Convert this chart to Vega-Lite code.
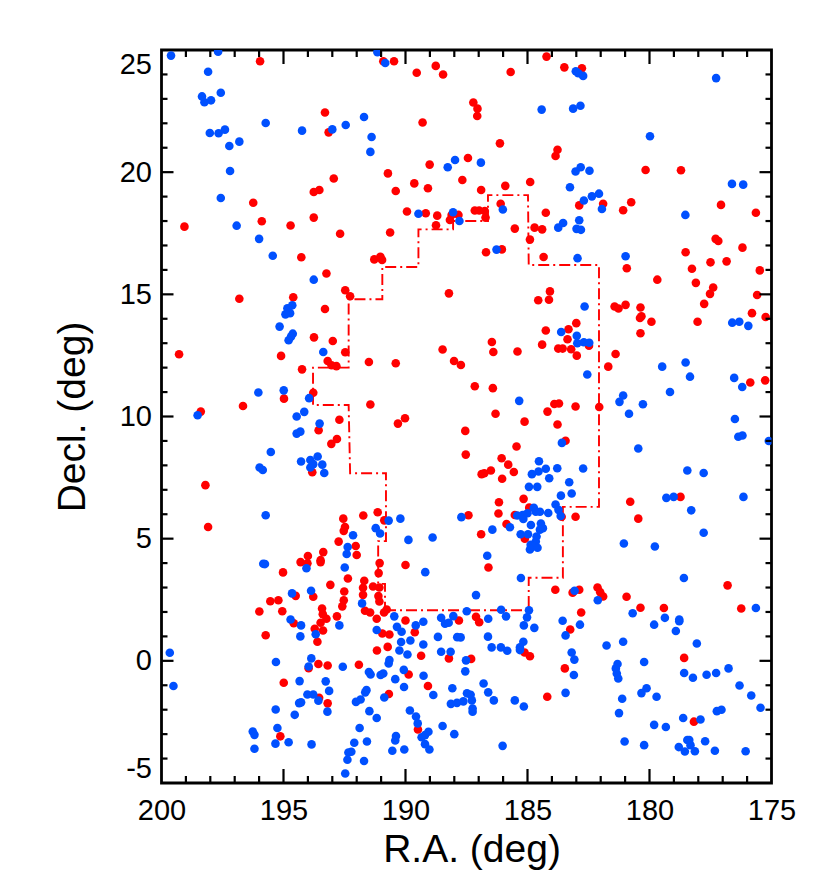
{"$schema":"https://vega.github.io/schema/vega-lite/v6.json","width":610,"height":733,"autosize":{"type":"none"},"padding":{"left":161.5,"top":50,"right":58.5,"bottom":102},"view":{"stroke":"black","strokeWidth":2.8},
"datasets":{"red":[
{"ra":195.96,"dec":24.54},{"ra":190.91,"dec":24.54},{"ra":190.47,"dec":24.54},{"ra":188.76,"dec":24.35},{"ra":189.54,"dec":24.07},{"ra":188.46,"dec":24.0},{"ra":193.3,"dec":22.44},{"ra":193.15,"dec":21.63},{"ra":189.3,"dec":22.03},{"ra":189.01,"dec":20.31},{"ra":187.44,"dec":20.58},{"ra":190.72,"dec":19.95},{"ra":189.64,"dec":19.54},{"ra":189.08,"dec":19.34},{"ra":190.4,"dec":19.23},{"ra":187.67,"dec":19.68},{"ra":192.94,"dec":19.74},{"ra":193.53,"dec":19.27},{"ra":193.76,"dec":19.19},{"ra":196.24,"dec":18.75},{"ra":195.89,"dec":17.99},{"ra":199.06,"dec":17.77},{"ra":194.71,"dec":17.82},{"ra":193.76,"dec":18.14},{"ra":192.68,"dec":17.48},{"ra":190.63,"dec":17.53},{"ra":189.94,"dec":18.39},{"ra":189.17,"dec":18.32},{"ra":188.7,"dec":18.22},{"ra":188.75,"dec":17.83},{"ra":188.18,"dec":18.04},{"ra":188.11,"dec":18.25},{"ra":187.83,"dec":18.25},{"ra":194.27,"dec":16.52},{"ra":191.28,"dec":16.43},{"ra":191.03,"dec":16.54},{"ra":190.96,"dec":16.41},{"ra":193.24,"dec":15.85},{"ra":192.47,"dec":15.17},{"ra":192.27,"dec":14.92},{"ra":196.81,"dec":14.82},{"ra":194.6,"dec":14.88},{"ra":188.22,"dec":15.04},
{"ra":184.22,"dec":24.73},{"ra":183.49,"dec":24.29},{"ra":182.77,"dec":24.25},{"ra":185.69,"dec":24.1},{"ra":187.22,"dec":22.85},{"ra":187.05,"dec":22.6},{"ra":187.06,"dec":22.3},{"ra":186.13,"dec":21.18},{"ra":183.77,"dec":20.92},{"ra":183.85,"dec":20.66},{"ra":186.9,"dec":19.27},{"ra":185.91,"dec":19.44},{"ra":184.89,"dec":19.6},{"ra":186.1,"dec":18.71},{"ra":187.16,"dec":18.43},{"ra":186.98,"dec":18.43},{"ra":186.75,"dec":18.41},{"ra":186.72,"dec":18.14},{"ra":184.25,"dec":18.34},{"ra":185.52,"dec":17.69},{"ra":184.71,"dec":17.73},{"ra":184.4,"dec":17.66},{"ra":184.9,"dec":17.24},{"ra":186.7,"dec":16.72},{"ra":186.05,"dec":16.84},{"ra":184.34,"dec":16.53},{"ra":184.08,"dec":15.12},{"ra":182.88,"dec":18.64},{"ra":181.9,"dec":18.71},{"ra":181.08,"dec":18.44},{"ra":180.75,"dec":18.77},{"ra":180.16,"dec":20.09},{"ra":178.71,"dec":20.08},{"ra":180.93,"dec":16.07},{"ra":179.68,"dec":15.6},{"ra":178.52,"dec":16.72},{"ra":178.26,"dec":16.05},{"ra":177.5,"dec":16.31},{"ra":176.84,"dec":16.35},{"ra":178.1,"dec":15.47},{"ra":177.39,"dec":15.28},{"ra":177.52,"dec":15.02},{"ra":177.29,"dec":17.27},{"ra":177.18,"dec":17.18},{"ra":176.19,"dec":16.91},{"ra":177.07,"dec":18.66},{"ra":175.64,"dec":18.34},{"ra":175.48,"dec":15.98},{"ra":175.59,"dec":14.97},
{"ra":193.3,"dec":14.4},{"ra":193.75,"dec":13.24},{"ra":192.98,"dec":13.09},{"ra":192.47,"dec":12.63},{"ra":199.28,"dec":12.55},{"ra":195.1,"dec":12.48},{"ra":188.48,"dec":12.74},{"ra":188.01,"dec":12.27},{"ra":187.73,"dec":12.11},{"ra":193.19,"dec":12.27},{"ra":193.03,"dec":12.1},{"ra":192.83,"dec":12.06},{"ra":191.5,"dec":12.23},{"ra":190.4,"dec":12.18},{"ra":194.24,"dec":11.93},{"ra":193.78,"dec":10.97},{"ra":194.98,"dec":10.73},{"ra":196.66,"dec":10.43},{"ra":198.39,"dec":10.2},{"ra":191.44,"dec":10.49},{"ra":192.71,"dec":9.87},{"ra":190.02,"dec":9.93},{"ra":190.31,"dec":9.71},{"ra":193.56,"dec":9.44},{"ra":187.55,"dec":9.41},{"ra":192.81,"dec":9.08},{"ra":193.04,"dec":8.88},{"ra":187.53,"dec":8.44},{"ra":193.82,"dec":7.72},{"ra":198.2,"dec":7.19},{"ra":191.73,"dec":5.95},{"ra":191.14,"dec":6.08},{"ra":192.55,"dec":5.82},{"ra":190.87,"dec":5.75},{"ra":187.42,"dec":5.96},{"ra":198.09,"dec":5.48},{"ra":192.48,"dec":5.48},{"ra":192.53,"dec":5.32},{"ra":192.74,"dec":4.88},{"ra":192.04,"dec":4.7},
{"ra":184.56,"dec":14.76},{"ra":184.12,"dec":14.78},{"ra":181.43,"dec":14.5},{"ra":181.27,"dec":14.42},{"ra":180.98,"dec":14.57},{"ra":180.37,"dec":14.46},{"ra":180.33,"dec":14.1},{"ra":180.39,"dec":14.03},{"ra":179.92,"dec":13.88},{"ra":180.37,"dec":13.41},{"ra":178.03,"dec":13.88},{"ra":177.76,"dec":14.61},{"ra":175.8,"dec":14.23},{"ra":175.24,"dec":14.07},{"ra":183.0,"dec":13.82},{"ra":183.32,"dec":13.57},{"ra":184.25,"dec":13.52},{"ra":183.36,"dec":13.16},{"ra":186.46,"dec":13.05},{"ra":184.4,"dec":12.94},{"ra":186.4,"dec":12.64},{"ra":185.41,"dec":12.66},{"ra":183.74,"dec":12.78},{"ra":183.56,"dec":12.78},{"ra":183.21,"dec":12.75},{"ra":182.98,"dec":12.49},{"ra":182.48,"dec":12.9},{"ra":181.39,"dec":12.56},{"ra":181.69,"dec":12.04},{"ra":187.16,"dec":11.24},{"ra":186.42,"dec":11.16},{"ra":175.87,"dec":11.39},{"ra":175.26,"dec":11.48},{"ra":186.31,"dec":10.11},{"ra":185.12,"dec":9.79},{"ra":183.9,"dec":10.51},{"ra":183.71,"dec":10.53},{"ra":183.03,"dec":10.41},{"ra":182.06,"dec":10.39},{"ra":184.18,"dec":10.2},{"ra":183.77,"dec":9.67},{"ra":183.44,"dec":9.01},{"ra":185.45,"dec":8.77},{"ra":186.06,"dec":8.29},{"ra":185.79,"dec":8.03},{"ra":186.5,"dec":7.79},{"ra":186.77,"dec":7.68},{"ra":186.88,"dec":7.64},{"ra":185.56,"dec":7.73},{"ra":186.04,"dec":7.45},{"ra":185.16,"dec":6.63},{"ra":186.17,"dec":6.49},{"ra":180.79,"dec":6.51},{"ra":178.73,"dec":6.71},{"ra":184.93,"dec":6.27},{"ra":186.19,"dec":6.03},{"ra":185.52,"dec":5.97},{"ra":183.03,"dec":5.9},{"ra":180.46,"dec":5.82},{"ra":183.6,"dec":5.9},{"ra":185.86,"dec":5.6},{"ra":186.9,"dec":5.18},{"ra":185.11,"dec":5.0},
{"ra":192.0,"dec":4.33},{"ra":193.37,"dec":4.45},{"ra":194.0,"dec":4.29},{"ra":194.3,"dec":4.04},{"ra":194.02,"dec":3.99},{"ra":193.48,"dec":4.12},{"ra":193.48,"dec":4.04},{"ra":191.06,"dec":4.0},{"ra":190.0,"dec":3.92},{"ra":195.02,"dec":3.62},{"ra":191.1,"dec":3.59},{"ra":192.36,"dec":3.37},{"ra":193.08,"dec":3.11},{"ra":191.69,"dec":3.28},{"ra":191.74,"dec":2.99},{"ra":191.33,"dec":3.04},{"ra":191.07,"dec":3.0},{"ra":191.74,"dec":2.7},{"ra":192.51,"dec":2.84},{"ra":194.5,"dec":2.66},{"ra":193.78,"dec":2.62},{"ra":192.53,"dec":2.48},{"ra":192.59,"dec":2.23},{"ra":191.11,"dec":2.65},{"ra":191.07,"dec":2.43},{"ra":195.54,"dec":2.44},{"ra":195.21,"dec":2.48},{"ra":195.99,"dec":2.02},{"ra":195.05,"dec":2.03},{"ra":193.42,"dec":2.14},{"ra":193.39,"dec":1.91},{"ra":193.24,"dec":1.72},{"ra":192.81,"dec":1.82},{"ra":191.66,"dec":2.05},{"ra":191.45,"dec":1.98},{"ra":190.77,"dec":2.1},{"ra":190.88,"dec":1.98},{"ra":191.18,"dec":1.72},{"ra":190.0,"dec":1.65},{"ra":193.48,"dec":1.56},{"ra":194.58,"dec":1.54},{"ra":189.62,"dec":1.17},{"ra":193.72,"dec":1.31},{"ra":193.38,"dec":1.24},{"ra":195.73,"dec":1.05},{"ra":190.95,"dec":1.12},{"ra":190.66,"dec":1.08},{"ra":193.61,"dec":0.78},{"ra":190.73,"dec":0.57},{"ra":191.17,"dec":0.42},{"ra":189.36,"dec":0.21},{"ra":188.22,"dec":0.1},{"ra":193.57,"dec":-0.13},{"ra":193.97,"dec":-0.3},{"ra":193.19,"dec":-0.19},{"ra":191.91,"dec":-0.16},{"ra":189.87,"dec":-0.56},{"ra":194.99,"dec":-0.9},{"ra":189.08,"dec":-1.03},{"ra":190.68,"dec":-1.36},{"ra":193.54,"dec":-1.51},{"ra":193.19,"dec":-1.74},{"ra":189.49,"dec":-2.81},{"ra":195.13,"dec":-3.09},
{"ra":186.6,"dec":3.82},{"ra":183.86,"dec":2.91},{"ra":183.15,"dec":2.79},{"ra":182.88,"dec":2.91},{"ra":182.13,"dec":3.0},{"ra":182.02,"dec":2.81},{"ra":181.9,"dec":2.63},{"ra":180.94,"dec":2.62},{"ra":180.37,"dec":2.17},{"ra":179.41,"dec":2.16},{"ra":176.8,"dec":3.09},{"ra":176.24,"dec":2.14},{"ra":182.8,"dec":1.98},{"ra":187.11,"dec":1.8},{"ra":186.98,"dec":1.58},{"ra":187.81,"dec":1.65},{"ra":183.25,"dec":1.28},{"ra":185.12,"dec":0.34},{"ra":184.9,"dec":0.19},{"ra":187.31,"dec":0.08},{"ra":178.58,"dec":0.12},{"ra":183.47,"dec":-0.31},{"ra":184.19,"dec":-1.47},{"ra":178.18,"dec":-2.49}],
"blue":[
{"ra":199.61,"dec":24.77},{"ra":197.68,"dec":24.93},{"ra":198.09,"dec":24.11},{"ra":197.57,"dec":23.25},{"ra":198.34,"dec":23.1},{"ra":198.24,"dec":22.86},{"ra":197.97,"dec":22.94},{"ra":195.73,"dec":22.01},{"ra":198.02,"dec":21.6},{"ra":197.66,"dec":21.59},{"ra":197.4,"dec":21.74},{"ra":196.81,"dec":21.25},{"ra":197.22,"dec":21.07},{"ra":197.19,"dec":20.05},{"ra":197.57,"dec":18.94},{"ra":196.92,"dec":17.81},{"ra":196.0,"dec":17.27},{"ra":195.44,"dec":16.58},{"ra":194.24,"dec":21.7},{"ra":193.0,"dec":21.75},{"ra":192.45,"dec":21.93},{"ra":191.7,"dec":22.26},{"ra":191.39,"dec":21.44},{"ra":191.44,"dec":20.83},{"ra":191.15,"dec":24.91},{"ra":190.83,"dec":24.47},{"ra":188.27,"dec":20.2},{"ra":187.97,"dec":20.5},{"ra":189.47,"dec":18.3},{"ra":188.05,"dec":18.36},{"ra":187.79,"dec":18.0},{"ra":193.76,"dec":15.6},
{"ra":184.42,"dec":22.56},{"ra":183.13,"dec":22.6},{"ra":182.83,"dec":22.72},{"ra":183.02,"dec":24.13},{"ra":182.92,"dec":24.05},{"ra":182.72,"dec":23.94},{"ra":177.27,"dec":23.85},{"ra":179.98,"dec":21.47},{"ra":186.91,"dec":20.39},{"ra":183.03,"dec":20.03},{"ra":182.82,"dec":20.2},{"ra":182.46,"dec":20.06},{"ra":183.26,"dec":19.38},{"ra":176.62,"dec":19.52},{"ra":176.16,"dec":19.49},{"ra":182.69,"dec":18.84},{"ra":182.36,"dec":19.01},{"ra":182.07,"dec":19.12},{"ra":181.95,"dec":18.49},{"ra":186.01,"dec":18.47},{"ra":183.54,"dec":17.92},{"ra":183.74,"dec":17.73},{"ra":182.88,"dec":18.03},{"ra":182.99,"dec":17.68},{"ra":182.81,"dec":17.64},{"ra":178.53,"dec":18.25},{"ra":186.27,"dec":16.83},{"ra":180.98,"dec":16.56},{"ra":182.95,"dec":16.48},
{"ra":194.64,"dec":14.55},{"ra":194.84,"dec":14.43},{"ra":194.73,"dec":14.23},{"ra":194.92,"dec":14.18},{"ra":195.16,"dec":13.68},{"ra":194.62,"dec":13.39},{"ra":194.69,"dec":13.27},{"ra":194.79,"dec":13.12},{"ra":193.37,"dec":12.64},{"ra":194.99,"dec":11.07},{"ra":196.03,"dec":10.98},{"ra":193.95,"dec":10.75},{"ra":194.15,"dec":10.19},{"ra":194.46,"dec":10.0},{"ra":198.52,"dec":10.05},{"ra":193.52,"dec":9.71},{"ra":194.31,"dec":9.38},{"ra":194.46,"dec":9.3},{"ra":195.52,"dec":8.55},{"ra":194.28,"dec":8.16},{"ra":193.9,"dec":8.22},{"ra":193.6,"dec":8.36},{"ra":193.78,"dec":8.05},{"ra":193.41,"dec":8.03},{"ra":193.9,"dec":7.91},{"ra":193.33,"dec":7.69},{"ra":195.98,"dec":7.91},{"ra":195.85,"dec":7.81},{"ra":195.73,"dec":5.96},{"ra":190.69,"dec":5.74},{"ra":190.21,"dec":5.82},{"ra":191.22,"dec":5.43},{"ra":191.04,"dec":5.21},{"ra":187.71,"dec":5.88},{"ra":192.15,"dec":5.14},{"ra":189.88,"dec":4.95},{"ra":188.89,"dec":5.05},{"ra":192.37,"dec":4.66},
{"ra":182.66,"dec":14.5},{"ra":176.61,"dec":13.84},{"ra":176.32,"dec":13.88},{"ra":175.95,"dec":13.71},{"ra":183.62,"dec":13.46},{"ra":182.98,"dec":13.3},{"ra":182.96,"dec":13.0},{"ra":182.69,"dec":13.04},{"ra":182.47,"dec":13.02},{"ra":182.55,"dec":11.72},{"ra":179.48,"dec":12.04},{"ra":178.52,"dec":12.21},{"ra":178.34,"dec":11.63},{"ra":179.16,"dec":11.0},{"ra":176.53,"dec":11.58},{"ra":176.2,"dec":11.21},{"ra":185.34,"dec":10.64},{"ra":181.08,"dec":10.86},{"ra":181.23,"dec":10.6},{"ra":180.27,"dec":10.5},{"ra":180.84,"dec":10.11},{"ra":176.5,"dec":9.9},{"ra":176.19,"dec":9.22},{"ra":176.36,"dec":9.17},{"ra":175.11,"dec":9.0},{"ra":183.59,"dec":8.92},{"ra":180.46,"dec":8.69},{"ra":184.53,"dec":8.17},{"ra":183.78,"dec":7.88},{"ra":184.25,"dec":7.86},{"ra":184.55,"dec":7.75},{"ra":184.82,"dec":7.64},{"ra":184.11,"dec":7.47},{"ra":182.72,"dec":7.87},{"ra":178.45,"dec":7.79},{"ra":177.78,"dec":7.69},{"ra":183.29,"dec":7.31},{"ra":184.94,"dec":7.12},{"ra":184.6,"dec":7.12},{"ra":183.19,"dec":6.85},{"ra":183.63,"dec":6.76},{"ra":179.31,"dec":6.67},{"ra":179.01,"dec":6.71},{"ra":176.15,"dec":6.71},{"ra":178.29,"dec":6.16},{"ra":183.85,"dec":6.4},{"ra":183.73,"dec":6.18},{"ra":183.64,"dec":5.93},{"ra":184.74,"dec":6.26},{"ra":184.66,"dec":6.1},{"ra":184.49,"dec":6.1},{"ra":184.15,"dec":6.05},{"ra":185.0,"dec":6.04},{"ra":185.2,"dec":5.97},{"ra":185.42,"dec":5.95},{"ra":185.17,"dec":5.81},{"ra":184.86,"dec":5.56},{"ra":184.45,"dec":5.62},{"ra":184.37,"dec":5.43},{"ra":184.49,"dec":5.37},{"ra":185.72,"dec":5.47},{"ra":186.44,"dec":5.37},{"ra":177.78,"dec":5.24},{"ra":185.28,"dec":5.18},{"ra":184.98,"dec":5.18},{"ra":184.63,"dec":5.09},{"ra":184.66,"dec":4.88},{"ra":184.87,"dec":4.75},{"ra":184.7,"dec":4.7},{"ra":181.05,"dec":4.8},{"ra":179.78,"dec":4.68},{"ra":184.9,"dec":4.56},{"ra":184.59,"dec":4.63},
{"ra":192.41,"dec":4.37},{"ra":192.49,"dec":3.82},{"ra":194.06,"dec":3.79},{"ra":195.83,"dec":3.97},{"ra":195.76,"dec":3.96},{"ra":189.19,"dec":3.63},{"ra":194.65,"dec":2.76},{"ra":193.87,"dec":2.87},{"ra":191.78,"dec":2.35},{"ra":194.71,"dec":1.69},{"ra":194.28,"dec":1.45},{"ra":192.71,"dec":1.45},{"ra":194.31,"dec":1.0},{"ra":193.68,"dec":1.09},{"ra":190.46,"dec":1.82},{"ra":190.35,"dec":1.39},{"ra":190.16,"dec":1.19},{"ra":191.18,"dec":1.26},{"ra":189.58,"dec":1.45},{"ra":189.27,"dec":1.6},{"ra":188.54,"dec":1.76},{"ra":188.38,"dec":1.52},{"ra":188.23,"dec":1.56},{"ra":188.04,"dec":1.83},{"ra":187.49,"dec":2.03},{"ra":188.67,"dec":0.98},{"ra":187.88,"dec":0.97},{"ra":187.74,"dec":0.96},{"ra":190.18,"dec":0.77},{"ra":189.8,"dec":0.83},{"ra":189.27,"dec":0.67},{"ra":190.25,"dec":0.42},{"ra":189.92,"dec":0.26},{"ra":188.54,"dec":0.37},{"ra":188.15,"dec":0.37},{"ra":199.66,"dec":0.33},{"ra":193.86,"dec":0.1},{"ra":195.31,"dec":-0.05},{"ra":193.97,"dec":-0.23},{"ra":192.57,"dec":-0.24},{"ra":190.66,"dec":0.03},{"ra":190.69,"dec":-0.11},{"ra":187.52,"dec":0.02},{"ra":187.55,"dec":-0.43},{"ra":190.07,"dec":-0.37},{"ra":191.5,"dec":-0.46},{"ra":191.43,"dec":-0.56},{"ra":190.91,"dec":-0.52},{"ra":191.02,"dec":-0.58},{"ra":190.42,"dec":-0.75},{"ra":189.26,"dec":-0.61},{"ra":194.34,"dec":-0.83},{"ra":193.27,"dec":-0.84},{"ra":199.51,"dec":-1.03},{"ra":190.06,"dec":-1.07},{"ra":193.13,"dec":-1.23},{"ra":191.6,"dec":-1.2},{"ra":191.65,"dec":-1.29},{"ra":194.02,"dec":-1.38},{"ra":193.78,"dec":-1.38},{"ra":193.57,"dec":-1.63},{"ra":190.87,"dec":-1.5},{"ra":188.86,"dec":-1.4},{"ra":188.08,"dec":-1.12},{"ra":187.48,"dec":-1.33},{"ra":191.84,"dec":-1.58},{"ra":192.03,"dec":-1.68},{"ra":194.36,"dec":-1.73},{"ra":194.28,"dec":-1.7},{"ra":188.14,"dec":-1.76},{"ra":187.89,"dec":-1.72},{"ra":187.63,"dec":-1.66},{"ra":195.32,"dec":-1.99},{"ra":193.2,"dec":-2.08},{"ra":191.48,"dec":-2.06},{"ra":189.82,"dec":-2.03},{"ra":194.54,"dec":-2.21},{"ra":191.18,"dec":-2.34},{"ra":189.57,"dec":-2.28},{"ra":189.5,"dec":-2.56},{"ra":188.48,"dec":-2.67},{"ra":195.25,"dec":-2.75},{"ra":191.88,"dec":-2.75},{"ra":196.26,"dec":-2.89},{"ra":196.19,"dec":-3.03},{"ra":189.06,"dec":-2.9},{"ra":189.2,"dec":-3.04},{"ra":189.34,"dec":-3.13},{"ra":188.0,"dec":-3.0},{"ra":190.39,"dec":-3.08},{"ra":190.42,"dec":-3.26},{"ra":191.58,"dec":-3.3},{"ra":192.1,"dec":-3.35},{"ra":194.79,"dec":-3.33},{"ra":195.33,"dec":-3.39},{"ra":193.85,"dec":-3.42},{"ra":189.2,"dec":-3.41},{"ra":189.02,"dec":-3.63},{"ra":196.19,"dec":-3.6},{"ra":190.54,"dec":-3.68},{"ra":190.05,"dec":-3.63},{"ra":192.22,"dec":-3.72},{"ra":192.34,"dec":-3.75},{"ra":192.38,"dec":-4.05},{"ra":191.7,"dec":-4.1},{"ra":192.47,"dec":-4.61},
{"ra":186.65,"dec":4.3},{"ra":185.27,"dec":3.39},{"ra":178.59,"dec":3.39},{"ra":187.11,"dec":2.69},{"ra":183.07,"dec":2.87},{"ra":182.12,"dec":2.48},{"ra":175.64,"dec":2.16},{"ra":180.69,"dec":1.95},{"ra":186.08,"dec":2.09},{"ra":185.88,"dec":1.82},{"ra":186.61,"dec":1.72},{"ra":184.94,"dec":2.07},{"ra":185.02,"dec":1.78},{"ra":185.15,"dec":1.45},{"ra":184.72,"dec":1.35},{"ra":183.56,"dec":1.64},{"ra":182.85,"dec":1.48},{"ra":183.44,"dec":1.04},{"ra":179.37,"dec":1.76},{"ra":179.81,"dec":1.48},{"ra":178.78,"dec":1.69},{"ra":178.78,"dec":1.62},{"ra":178.92,"dec":1.22},{"ra":181.76,"dec":0.63},{"ra":181.08,"dec":0.78},{"ra":178.06,"dec":0.71},{"ra":186.62,"dec":0.99},{"ra":186.47,"dec":0.55},{"ra":186.09,"dec":0.55},{"ra":185.83,"dec":0.41},{"ra":185.17,"dec":0.78},{"ra":185.31,"dec":0.55},{"ra":185.31,"dec":0.44},{"ra":183.19,"dec":0.34},{"ra":183.08,"dec":0.05},{"ra":180.22,"dec":-0.05},{"ra":181.31,"dec":-0.13},{"ra":181.38,"dec":-0.31},{"ra":181.34,"dec":-0.52},{"ra":181.28,"dec":-0.72},{"ra":178.58,"dec":-0.5},{"ra":178.22,"dec":-0.69},{"ra":177.66,"dec":-0.57},{"ra":177.27,"dec":-0.5},{"ra":176.76,"dec":-0.31},{"ra":183.1,"dec":-0.58},{"ra":186.8,"dec":-0.93},{"ra":176.31,"dec":-1.01},{"ra":175.83,"dec":-1.42},{"ra":175.45,"dec":-1.92},{"ra":180.12,"dec":-1.12},{"ra":180.33,"dec":-1.32},{"ra":179.71,"dec":-1.47},{"ra":186.61,"dec":-1.29},{"ra":187.33,"dec":-1.39},{"ra":183.44,"dec":-1.31},{"ra":181.12,"dec":-1.55},{"ra":187.28,"dec":-1.62},{"ra":186.38,"dec":-1.62},{"ra":185.52,"dec":-1.62},{"ra":185.15,"dec":-1.87},{"ra":187.25,"dec":-1.95},{"ra":187.25,"dec":-2.08},{"ra":181.25,"dec":-2.14},{"ra":177.05,"dec":-2.0},{"ra":177.24,"dec":-2.06},{"ra":178.62,"dec":-2.34},{"ra":177.91,"dec":-2.4},{"ra":179.81,"dec":-2.62},{"ra":179.33,"dec":-2.71},{"ra":181.02,"dec":-3.3},{"ra":180.22,"dec":-3.45},{"ra":186.02,"dec":-3.48},{"ra":178.45,"dec":-3.24},{"ra":178.37,"dec":-3.24},{"ra":178.32,"dec":-3.45},{"ra":177.72,"dec":-3.29},{"ra":178.8,"dec":-3.53},{"ra":178.55,"dec":-3.71},{"ra":178.14,"dec":-3.7},{"ra":177.32,"dec":-3.68},{"ra":176.06,"dec":-3.7}],
"boundary":[{"seq":0,"ra":190.84,"dec":2.07},{"seq":1,"ra":184.95,"dec":2.07},{"seq":2,"ra":184.95,"dec":3.4},{"seq":3,"ra":183.55,"dec":3.4},{"seq":4,"ra":183.55,"dec":6.3},{"seq":5,"ra":182.07,"dec":6.3},{"seq":6,"ra":182.07,"dec":16.2},{"seq":7,"ra":184.95,"dec":16.2},{"seq":8,"ra":184.98,"dec":19.06},{"seq":9,"ra":186.62,"dec":19.06},{"seq":10,"ra":186.62,"dec":18.0},{"seq":11,"ra":188.05,"dec":18.0},{"seq":12,"ra":188.05,"dec":17.66},{"seq":13,"ra":189.47,"dec":17.66},{"seq":14,"ra":189.47,"dec":16.12},{"seq":15,"ra":190.95,"dec":16.12},{"seq":16,"ra":190.95,"dec":14.8},{"seq":17,"ra":192.33,"dec":14.8},{"seq":18,"ra":192.33,"dec":12.0},{"seq":19,"ra":193.79,"dec":12.0},{"seq":20,"ra":193.79,"dec":10.47},{"seq":21,"ra":192.33,"dec":10.47},{"seq":22,"ra":192.27,"dec":7.68},{"seq":23,"ra":190.8,"dec":7.68},{"seq":24,"ra":190.8,"dec":4.9},{"seq":25,"ra":191.12,"dec":4.9},{"seq":26,"ra":191.12,"dec":3.15},{"seq":27,"ra":190.84,"dec":3.15},{"seq":28,"ra":190.84,"dec":2.07}],
"xMajor":[{"v":195},{"v":190},{"v":185},{"v":180}],
"xMinor":[{"v":199},{"v":198},{"v":197},{"v":196},{"v":194},{"v":193},{"v":192},{"v":191},{"v":189},{"v":188},{"v":187},{"v":186},{"v":184},{"v":183},{"v":182},{"v":181},{"v":179},{"v":178},{"v":177},{"v":176}],
"yMajor":[{"v":0},{"v":5},{"v":10},{"v":15},{"v":20}],
"yMinor":[{"v":-4},{"v":-3},{"v":-2},{"v":-1},{"v":1},{"v":2},{"v":3},{"v":4},{"v":6},{"v":7},{"v":8},{"v":9},{"v":11},{"v":12},{"v":13},{"v":14},{"v":16},{"v":17},{"v":18},{"v":19},{"v":21},{"v":22},{"v":23},{"v":24}]},
"layer":[
{"data":{"name":"red"},"mark":{"type":"point","filled":true,"size":74,"opacity":1,"color":"#ff0000","clip":true},"encoding":{"x":{"field":"ra","type":"quantitative","scale":{"domain":[200,175],"nice":false,"zero":false},"axis":{"orient":"bottom","values":[200,195,190,185,180,175],"grid":false,"domain":false,"ticks":false,"labelPadding":13,"labelFontSize":29,"labelFont":"Liberation Sans","labelColor":"black","labelOverlap":false,"labelFlush":false,"title":"R.A. (deg)","titleFont":"Liberation Sans","titleFontSize":39,"titleFontWeight":"normal","titleColor":"black","titlePadding":5,"titleX":310}},"y":{"field":"dec","type":"quantitative","scale":{"domain":[-5,25],"nice":false,"zero":false},"axis":{"orient":"left","values":[-5,0,5,10,15,20,25],"grid":false,"domain":false,"ticks":false,"labelPadding":10,"labelFontSize":29,"labelFont":"Liberation Sans","labelColor":"black","labelOverlap":false,"labelFlush":true,"labelExpr":"''+datum.value","title":"Decl. (deg)","titleFont":"Liberation Sans","titleFontSize":39,"titleFontWeight":"normal","titleColor":"black","titlePadding":27}}}},
{"data":{"name":"boundary"},"mark":{"type":"line","color":"#ff0000","strokeWidth":1.9,"strokeDash":[11,4,2,4]},"encoding":{"order":{"field":"seq","type":"quantitative"},"x":{"field":"ra","type":"quantitative"},"y":{"field":"dec","type":"quantitative"}}},
{"data":{"name":"blue"},"mark":{"type":"point","filled":true,"size":74,"opacity":1,"color":"#0050ff","clip":true},"encoding":{"x":{"field":"ra","type":"quantitative"},"y":{"field":"dec","type":"quantitative"}}},
{"data":{"name":"xMajor"},"mark":{"type":"point","filled":true,"opacity":1,"color":"black","size":784,"shape":"M-0.079,0H0.079V-1H-0.079Z"},"encoding":{"x":{"field":"v","type":"quantitative"},"y":{"datum":-5}}},
{"data":{"name":"xMajor"},"mark":{"type":"point","filled":true,"opacity":1,"color":"black","size":784,"shape":"M-0.079,0H0.079V1H-0.079Z"},"encoding":{"x":{"field":"v","type":"quantitative"},"y":{"datum":25}}},
{"data":{"name":"xMinor"},"mark":{"type":"point","filled":true,"opacity":1,"color":"black","size":196,"shape":"M-0.157,0H0.157V-1H-0.157Z"},"encoding":{"x":{"field":"v","type":"quantitative"},"y":{"datum":-5}}},
{"data":{"name":"xMinor"},"mark":{"type":"point","filled":true,"opacity":1,"color":"black","size":196,"shape":"M-0.157,0H0.157V1H-0.157Z"},"encoding":{"x":{"field":"v","type":"quantitative"},"y":{"datum":25}}},
{"data":{"name":"yMajor"},"mark":{"type":"point","filled":true,"opacity":1,"color":"black","size":576,"shape":"M0,-0.092H1V0.092H0Z"},"encoding":{"y":{"field":"v","type":"quantitative"},"x":{"datum":200}}},
{"data":{"name":"yMajor"},"mark":{"type":"point","filled":true,"opacity":1,"color":"black","size":576,"shape":"M0,-0.092H-1V0.092H0Z"},"encoding":{"y":{"field":"v","type":"quantitative"},"x":{"datum":175}}},
{"data":{"name":"yMinor"},"mark":{"type":"point","filled":true,"opacity":1,"color":"black","size":144,"shape":"M0,-0.183H1V0.183H0Z"},"encoding":{"y":{"field":"v","type":"quantitative"},"x":{"datum":200}}},
{"data":{"name":"yMinor"},"mark":{"type":"point","filled":true,"opacity":1,"color":"black","size":144,"shape":"M0,-0.183H-1V0.183H0Z"},"encoding":{"y":{"field":"v","type":"quantitative"},"x":{"datum":175}}}
]}
